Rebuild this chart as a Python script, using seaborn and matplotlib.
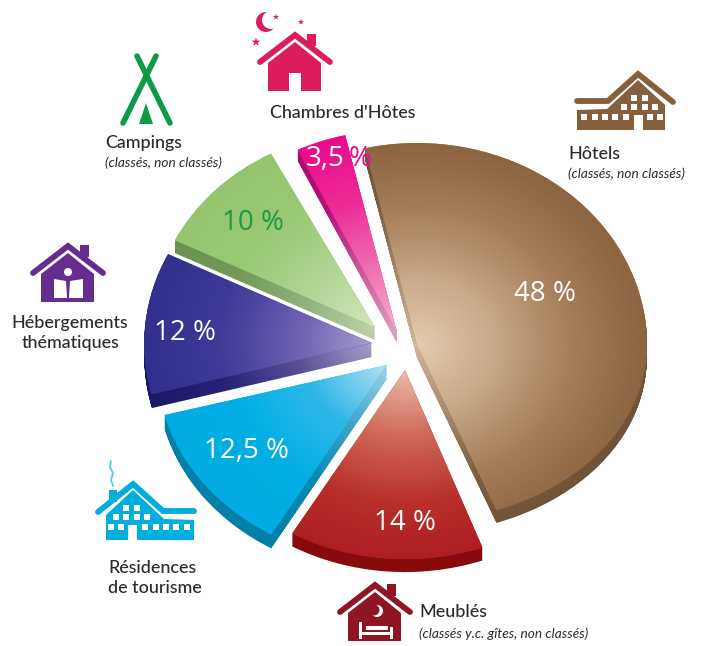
import matplotlib
matplotlib.use("Agg")
import matplotlib.pyplot as plt
import seaborn as sns
import numpy as np
from matplotlib.patches import PathPatch, Polygon, Rectangle, Circle
from matplotlib.path import Path

sns.set_theme(style="white")
plt.rcParams['font.family'] = ['Lato', 'Open Sans', 'DejaVu Sans']

# data
categories = ["Hôtels", "Meublés", "Résidences de tourisme", "Hébergements thématiques", "Campings", "Chambres d'Hôtes"]
shares = [48, 14, 12.5, 12, 10, 3.5]
share_labels = ["48 %", "14 %", "12,5 %", "12 %", "10 %", "3,5 %"]

# layout, all in pixels of the 701x646 picture
W, H = 701, 646
CX, CY, RX, RY = 405, 345, 230, 202
apex_x = [417, 405, 387, 372, 375, 397]
apex_y = [345, 370, 365, 343, 327, 332]
radii = [1.0, 0.975, 1.0, 0.99, 0.97, 1.0]
depths = [13, 13, 14, 14, 13, 11]
squash = [0.87, 0.96, 0.97, 1, 1, 1]
nudge1 = [0, 0, 0, 2, 2.2, 0]
nudge2 = [0, 0, 0, 0, 2.1, 0]
label_x = [545, 405, 246, 185, 253, 343]
label_y = [294, 523, 451, 333, 223, 159]
label_colors = ["white", "white", "white", "white", "#1c9a48", "white"]

top_ramps = [
    ["#e2cdae", "#c9a987", "#a77e58", "#8c6440"],
    ["#ecbbaa", "#cf6b58", "#b9312b", "#ad1c20"],
    ["#b4e0f5", "#30b8e8", "#00afe4", "#00ace3"],
    ["#a59cd2", "#6c60b0", "#3f3a98", "#322f8e"],
    ["#d2e5bb", "#b3d596", "#9ac974", "#94c56e"],
    ["#f6b2d0", "#f070b0", "#ec2c98", "#ea0a8c"],
]
side_ramps = [
    ["#cdb79d", "#a98d70", "#7d6045", "#6f5238"],
    ["#a8322c", "#981a1a", "#8d0d10", "#880a0c"],
    ["#a0d4e8", "#3ea3c8", "#0588b2", "#0380a8"],
    ["#a79fc8", "#5a5096", "#2a2478", "#1c1868"],
    ["#bcd3a8", "#92b27c", "#74995a", "#6a9150"],
    ["#dca0c0", "#c85a98", "#b4147a", "#aa0a70"],
]

TEXT = "#2b2a29"
HOTEL = "#86603c"
RESID = "#00aedb"
PINK = "#dc1c5c"
PURPLE = "#662d91"
RED = "#8e1622"
GREEN = "#0f9a48"

fig = plt.figure(figsize=(W / 100, H / 100), dpi=100)
ax = fig.add_axes([0, 0, 1, 1])
wedges, _ = ax.pie(shares, startangle=103, counterclock=False)
ax.set_aspect("auto")


def to_x(px):
    return (px - CX) / RX


def to_y(py):
    return (CY - py) / RY


xs = np.linspace(to_x(0), to_x(W), W)
ys = np.linspace(to_y(0), to_y(H), H)
X, Y = np.meshgrid(xs, ys)
extent = [to_x(0), to_x(W), to_y(H), to_y(0)]

for i, w in enumerate(wedges):
    x0, y0 = to_x(apex_x[i]), to_y(apex_y[i])
    w.set_center((x0, y0))
    w.set_radius(radii[i])
    w.set_theta1(w.theta1 + nudge1[i])
    w.set_theta2(w.theta2 + nudge2[i])
    w.set_visible(False)
    verts = w.get_path().vertices.copy()
    codes = w.get_path().codes
    low = verts[:, 1] < y0
    verts[low, 1] = y0 + (verts[low, 1] - y0) * squash[i]
    top = Path(verts, codes)

    dist = np.hypot(X - x0, Y - y0) / radii[i]

    # extruded side, copies of the top shifted down
    copies = [Path(verts - [0, d / RY], codes) for d in np.arange(1, depths[i] + 1)]
    side = Path.make_compound_path(*copies)
    side_patch = PathPatch(side, transform=ax.transData, fc="none", ec="none")
    ax.add_patch(side_patch)
    img = ax.imshow(dist, extent=extent, origin="upper", aspect="auto", vmin=0, vmax=1,
                    cmap=sns.blend_palette(side_ramps[i], as_cmap=True), zorder=2 + i * 2)
    img.set_clip_path(side_patch)

    top_patch = PathPatch(top, transform=ax.transData, fc=top_ramps[i][2], ec="none", zorder=3 + i * 2)
    ax.add_patch(top_patch)
    img = ax.imshow(dist, extent=extent, origin="upper", aspect="auto", vmin=0, vmax=1,
                    cmap=sns.blend_palette(top_ramps[i], as_cmap=True), zorder=3 + i * 2)
    img.set_clip_path(top_patch)

ax.set_xlim(to_x(0), to_x(W))
ax.set_ylim(to_y(H), to_y(0))
ax.axis("off")

# overlay in picture pixels for the icons and texts
ov = fig.add_axes([0, 0, 1, 1], zorder=5)
ov.set_xlim(0, W)
ov.set_ylim(H, 0)
ov.axis("off")
ov.patch.set_alpha(0)


def stroke(pts, color, lw):
    ov.plot(*zip(*pts), color=color, lw=lw, solid_capstyle="round", solid_joinstyle="miter")


def house(cx, top, color):
    stroke([(cx - 35, top + 29), (cx, top + 2), (cx + 35, top + 29)], color, 4.2)
    ov.add_patch(Rectangle((cx + 12, top + 1), 9, 12, fc=color, ec="none"))
    ov.add_patch(Polygon([(cx - 27, top + 30), (cx, top + 9), (cx + 26, top + 30), (cx + 26, top + 58),
                          (cx - 27, top + 58)], fc=color, ec="none"))


def lodge(x0, top, color, mirror=False):
    def mx(v):
        return x0 + 96 - v if mirror else x0 + v
    stroke([(mx(0), top + 29), (mx(31), top + 29), (mx(61), top + 2), (mx(96), top + 30)], color, 4.2)
    ov.add_patch(Polygon([(mx(0), top + 38), (mx(30), top + 37), (mx(61), top + 8), (mx(88), top + 33),
                          (mx(88), top + 58), (mx(0), top + 58)], fc=color, ec="none"))
    ov.add_patch(Rectangle((mx(61.5) - 4.5, top + 43), 9, 15, fc="white", ec="none"))
    windows = [(54, 23), (65, 23), (44, 32), (54, 32), (65, 32), (75, 32), (4, 42), (15, 42), (25, 42),
               (35, 42), (46, 42), (70, 42), (80, 42)]
    for wx, wy in windows:
        ov.add_patch(Rectangle((mx(wx + 3) - 3, top + wy), 6, 6, fc="white", ec="none"))


# Chambres d'Hôtes
house(295, 33, PINK)
ov.add_patch(Rectangle((289, 73), 12, 19, fc="white", ec="none"))
ov.add_patch(Circle((266, 22), 10, fc=PINK, ec="none"))
ov.add_patch(Circle((271, 20), 9, fc="white", ec="none"))
ov.scatter([276, 301, 256], [17, 22, 42], marker="*", s=[22, 22, 45], color=PINK, linewidths=0)

# Hôtels
lodge(577, 72, HOTEL)

# Campings
stroke([(137, 56), (170, 123)], GREEN, 4)
stroke([(156, 56), (123, 123)], GREEN, 4)
ov.add_patch(Polygon([(146, 103), (139, 124), (153, 124)], fc=GREEN, ec="none"))

# Hébergements thématiques
house(68, 244, PURPLE)
ov.add_patch(Circle((68, 272), 4, fc="white", ec="none"))
ov.add_patch(Polygon([(54, 279), (66, 281), (67, 298), (54, 298)], fc="white", ec="none"))
ov.add_patch(Polygon([(83, 279), (70, 281), (69, 298), (83, 298)], fc="white", ec="none"))

# Résidences de tourisme
lodge(98, 482, RESID, mirror=True)
ov.add_patch(Rectangle((109, 490), 8, 12, fc=RESID, ec="none"))
ov.plot([111, 110, 113, 111, 113], [461, 467, 473, 480, 486], color="#5cc8e6", lw=1.3)

# Meublés
house(375, 583, RED)
ov.add_patch(Circle((377, 611), 6, fc="white", ec="none"))
ov.add_patch(Circle((374, 610), 5.5, fc=RED, ec="none"))
ov.add_patch(Rectangle((359, 622), 2.5, 17, fc="white", ec="none"))
ov.add_patch(Rectangle((390, 627), 2.5, 12, fc="white", ec="none"))
ov.add_patch(Rectangle((361, 632), 30, 3, fc="white", ec="none"))
ov.add_patch(Rectangle((366, 626), 22, 4, fc="white", ec="none"))

# texts
main = dict(fontsize=12.9, color=TEXT, va="center", weight="medium")
sub = dict(fontsize=9.8, style="italic", color=TEXT, va="center", ha="left")
ov.text(270, 113, "Chambres d'Hôtes", ha="left", **main)
ov.text(568, 154, "Hôtels", ha="left", **main)
ov.text(568, 174, "(classés, non classés)", **sub)
ov.text(105, 143, "Campings", ha="left", **main)
ov.text(105, 163, "(classés, non classés)", **sub)
ov.text(70, 333, "Hébergements\nthématiques", ha="center", multialignment="center", linespacing=1.25, **main)
ov.text(108, 578, "Résidences\nde tourisme", ha="left", multialignment="left", linespacing=1.25, **main)
ov.text(419, 612, "Meublés", ha="left", **main)
ov.text(419, 634, "(classés y.c. gîtes, non classés)", **sub)

for i, lab in enumerate(share_labels):
    kw = dict(fontsize=20, family="Open Sans", va="center")
    if i == 5:
        # the number stays on the slice, the sign runs past its edge in the slice colour
        num, sign = lab.split(" ")
        ov.text(label_x[i] + 2, label_y[i], num, color="white", ha="right", **kw)
        ov.text(label_x[i] + 6, label_y[i], sign, color="#ea0a8c", ha="left", **kw)
    else:
        ov.text(label_x[i], label_y[i], lab, color=label_colors[i], ha="center", **kw)

fig.savefig("out.png", dpi=100)
